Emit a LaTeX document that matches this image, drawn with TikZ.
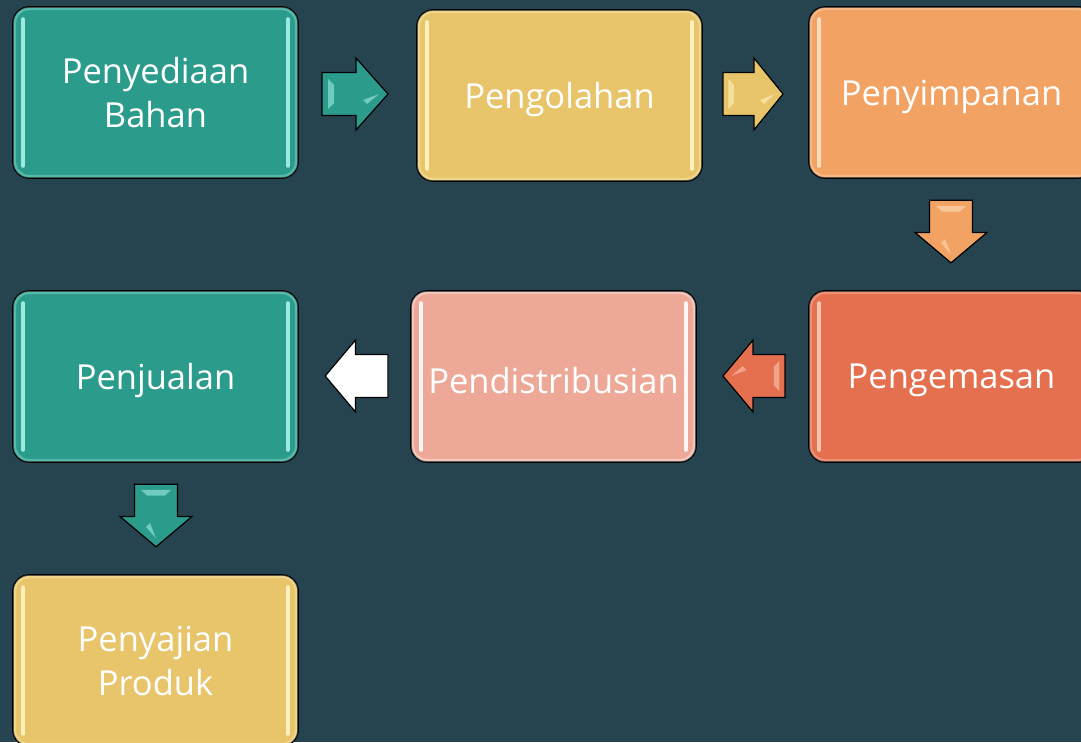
\documentclass[tikz,border=0pt]{standalone}
\usepackage{fontspec}
\setmainfont{Open Sans}
\definecolor{bg}{HTML}{26444F}
\definecolor{cteal}{HTML}{2B9B8B}
\definecolor{hteal}{HTML}{A8F5E8}
\definecolor{cyel}{HTML}{E8C56B}
\definecolor{hyel}{HTML}{FFF6C8}
\definecolor{corg}{HTML}{F2A263}
\definecolor{horg}{HTML}{FFE4C8}
\definecolor{cred}{HTML}{E4704F}
\definecolor{hred}{HTML}{FFD0BC}
\definecolor{cpink}{HTML}{EEA897}
\definecolor{hpink}{HTML}{FFFFFF}
\newcommand\lowtext[1]{\raisebox{-4pt}[\height][\depth]{#1}}
\tikzset{
  box/.style={draw=black, line width=1.6pt, rounded corners=16pt, minimum width=285pt, minimum height=171pt,
    text=white, align=center, font=\fontsize{34.5}{44}\selectfont, inner sep=0pt},
  pics/blockarrow/.style 2 args={code={
    \draw[line width=1.2pt, fill=#1, line join=miter] (-33,-21.5) -- (1,-21.5) -- (1,-36) -- (33,0) -- (1,36) -- (1,21.5) -- (-33,21.5) -- cycle;
    \fill[#2, opacity=0.55] (-27,-15) -- (-21,-9) -- (-21,9) -- (-27,15) -- cycle;
    \fill[#2, opacity=0.55] (24,0) -- (12,10) -- (8,6) -- cycle;
  }}
}
\newcommand\glowbox[3]{% name, hilite, fill
  \draw[#2, line width=4pt, line cap=round, opacity=0.9]
    ([xshift=11pt,yshift=-13pt]#1.north west) -- ([xshift=11pt,yshift=13pt]#1.south west);
  \draw[#2, line width=4pt, line cap=round, opacity=0.9]
    ([xshift=-11pt,yshift=-13pt]#1.north east) -- ([xshift=-11pt,yshift=13pt]#1.south east);
  \draw[#2, line width=3pt, rounded corners=14pt, opacity=0.35]
    ([xshift=2.5pt,yshift=-2.5pt]#1.north west) rectangle ([xshift=-2.5pt,yshift=2.5pt]#1.south east);
}
\begin{document}
\begin{tikzpicture}[x=1pt,y=-1pt]
\useasboundingbox (0,0) rectangle (1081,742);
\fill[bg] (0,0) rectangle (1081,742);
\clip (0,0) rectangle (1081,742);
\node[box, fill=cteal] (a) at (155.5,92.5) {Penyediaan\\Bahan};
\node[box, fill=cyel] (b) at (559.5,95.5) {\lowtext{Pengolahan}};
\node[box, fill=corg] (c) at (951.5,92.5) {\lowtext{Penyimpanan}};
\node[box, fill=cred] (d) at (951.5,376.5) {\lowtext{Pengemasan}};
\node[box, fill=cpink] (e) at (553.5,376.5) {\lowtext{Pendistribusian}};
\node[box, fill=cteal] (f) at (155.5,376.5) {\lowtext{Penjualan}};
\node[box, fill=cyel] (g) at (155.5,660.5) {Penyajian\\Produk};
\glowbox{a}{hteal}{cteal}
\glowbox{b}{hyel}{cyel}
\glowbox{c}{horg}{corg}
\glowbox{d}{hred}{cred}
\glowbox{e}{hpink}{cpink}
\glowbox{f}{hteal}{cteal}
\glowbox{g}{hyel}{cyel}
% arrows
\pic at (355,94) {blockarrow={cteal}{hteal}};
\pic[xscale=0.91] at (753,94) {blockarrow={cyel}{hyel}};
\pic[rotate=-90, xscale=0.95] at (951,231.5) {blockarrow={corg}{horg}};
\pic[rotate=180, xscale=0.94] at (754,376) {blockarrow={cred}{hred}};
\pic[rotate=180, xscale=0.95] at (356.5,376) {blockarrow={white}{white}};
\pic[rotate=-90, xscale=0.95] at (156,515.5) {blockarrow={cteal}{hteal}};
\end{tikzpicture}
\end{document}
